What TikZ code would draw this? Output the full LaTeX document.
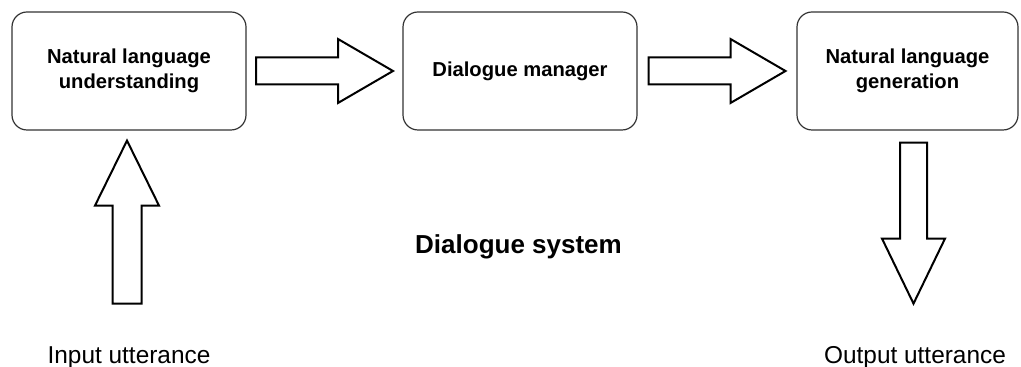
\documentclass[tikz,border=0pt]{standalone}
\usepackage{fontspec}
\setmainfont{Liberation Sans}
\usetikzlibrary{calc}
\tikzstyle{block} = [rectangle, rounded corners=7.5pt, minimum width=117pt, minimum height=59pt, align=center, draw=black!80, line width=0.6pt, font=\bfseries\fontsize{10.1}{12.5}\selectfont]
\tikzstyle{blockarrow} = [draw=black, line width=1pt, line join=miter, fill=white]
\tikzstyle{uttr} = [font=\fontsize{12.2}{14}\selectfont]
\tikzstyle{heading} = [font=\bfseries\fontsize{13}{15}\selectfont]

\begin{document}
\begin{tikzpicture}[x=0.5pt, y=-0.5pt, node distance=195.5pt]
\useasboundingbox (0,0) rectangle (1021,367);

\node (nlu) [block] at (129,71) {Natural language\\understanding};
\node (dm) [block, right of=nlu] {Dialogue manager};
\node (nlg) [block, right of=dm, xshift=-1.75pt, minimum width=110.5pt] {Natural language\\generation};
\node (sys) [heading, below of=dm, xshift=-0.75pt, yshift=107.5pt] {Dialogue system};
\node (in) [uttr, below of=nlu, yshift=52pt] {Input utterance};
\node (out) [uttr, below of=nlg, xshift=3.75pt, yshift=52pt] {Output utterance};

\coordinate (m1) at ($(nlu.east)!0.5!(dm.west)$);
\coordinate (m2) at ($(dm.east)!0.5!(nlg.west)$);

\draw [blockarrow] (m1) ++(-34.25pt,6.75pt) -- ++(41pt,0) -- ++(0,9.25pt) -- ++(27.5pt,-16pt) -- ++(-27.5pt,-16pt) -- ++(0,9.25pt) -- ++(-41pt,0) -- cycle;
\draw [blockarrow] (m2) ++(-34.25pt,6.75pt) -- ++(41pt,0) -- ++(0,9.25pt) -- ++(27.5pt,-16pt) -- ++(-27.5pt,-16pt) -- ++(0,9.25pt) -- ++(-41pt,0) -- cycle;
\draw [blockarrow] ([xshift=-1pt,yshift=-5pt]nlu.south) -- ++(16pt,-32.5pt) -- ++(-8.75pt,0) -- ++(0,-49pt) -- ++(-14.5pt,0) -- ++(0,49pt) -- ++(-8.75pt,0) -- cycle;
\draw [blockarrow] ([xshift=-3.75pt,yshift=-6pt]nlg.south) -- ++(13.5pt,0) -- ++(0,-48pt) -- ++(9pt,0) -- ++(-15.75pt,-32.5pt) -- ++(-15.75pt,32.5pt) -- ++(9pt,0) -- cycle;
\end{tikzpicture}
\end{document}
